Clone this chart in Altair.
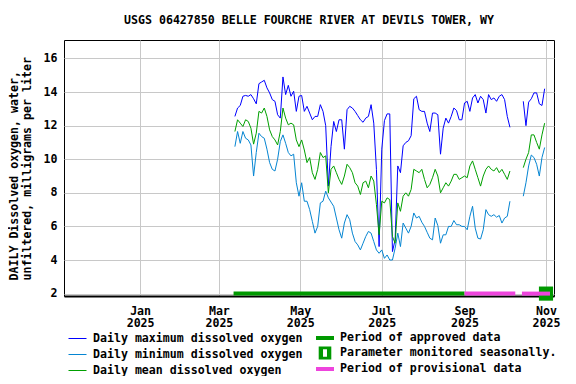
import altair as alt
import pandas as pd

TITLE = "USGS 06427850 BELLE FOURCHE RIVER AT DEVILS TOWER, WY"
Y_TITLE = ["DAILY Dissolved oxygen, water,", "unfiltered, milligrams per liter"]
FONT = "DejaVu Sans Mono"
FS = 11.6

SERIES = ["Daily maximum dissolved oxygen", "Daily minimum dissolved oxygen",
          "Daily mean dissolved oxygen"]
SERIES_COLORS = ["#0000ff", "#0585d2", "#00a000"]

# readings every 2 days; segment 1 from 2025-03-13, segment 2 from 2025-10-15
SEG_STARTS = ["2025-03-13", "2025-10-15"]

MAX_1 = [12.55, 13.05, 13.2, 13.75, 13.8, 13.75, 13.85, 13.6, 13.3, 14.5,
         14.6, 14.7, 14.25, 13.95, 13.55, 13.45, 12.65, 12.45, 14.9, 13.85,
         14.4, 13.75, 14.05, 12.85, 13.75, 13.8, 12.85, 13.15, 12.75, 12.35,
         12.55, 12.55, 13.25, 12.85, 12.0, 8.4, 10.75, 12.25, 11.65, 12.35,
         12.35, 10.6, 12.95, 13.15, 13.05, 12.85, 12.6, 12.35, 12.2, 12.45,
         12.55, 13.25, 12.15, 9.4, 4.8, 10.6, 12.3, 12.7, 12.7, 4.5,
         5.2, 9.6, 9.2, 10.8, 11.0, 11.1, 11.4, 13.6, 13.75, 12.95,
         12.85, 12.85, 12.15, 11.65, 12.75, 12.75, 12.65, 10.3, 11.85, 12.45,
         12.15, 12.55, 13.05, 12.9, 12.35, 12.35, 13.35, 13.45, 12.85, 13.65,
         13.85, 13.35, 13.75, 13.55, 12.75, 13.85, 13.55, 13.65, 13.45, 13.75,
         13.85, 13.55, 12.55, 11.9]
MAX_2 = [13.45, 12.0, 13.4, 13.6, 13.95, 13.95, 13.3, 13.2, 14.2]

MIN_1 = [10.75, 11.65, 10.95, 11.65, 11.25, 11.15, 10.85, 9.0, 10.4, 11.55,
         11.35, 11.25, 10.6, 9.8, 9.4, 9.3, 10.0, 11.05, 11.45, 10.95,
         10.4, 10.2, 10.3, 8.6, 7.8, 8.6, 7.5, 7.5, 7.0, 6.3,
         5.6, 6.0, 7.4, 7.5, 8.1, 7.7, 7.45, 7.2, 6.5, 5.8,
         5.3, 6.2, 6.7, 6.4, 5.6, 5.1, 4.9, 4.6, 5.0, 5.4,
         5.7, 5.6, 5.1, 4.6, 4.4, 4.6, 4.1, 4.3, 4.0, 4.0,
         4.7, 5.6, 4.8, 6.2, 5.9, 5.6, 6.0, 6.8, 6.5, 6.6,
         6.25, 6.0, 5.65, 5.3, 5.2, 6.5, 6.05, 5.0, 5.5, 5.5,
         6.0, 6.0, 6.35, 6.1, 6.1, 6.0, 6.0, 5.8, 6.6, 7.2,
         5.9, 5.3, 5.25, 5.8, 7.0, 6.7, 6.6, 6.7, 6.55, 6.65,
         6.2, 6.5, 6.6, 7.5]
MIN_2 = [7.8, 8.6, 9.6, 10.25, 10.1, 9.7, 9.0, 10.1, 10.7]

MEAN_1 = [11.65, 12.35, 12.15, 11.95, 12.35, 12.25, 11.85, 10.9, 11.55, 12.85,
          12.75, 13.05, 12.55, 11.75, 11.35, 11.15, 10.85, 11.65, 13.05, 12.45,
          12.05, 12.15, 12.05, 11.15, 10.75, 11.15, 10.55, 9.8, 10.1, 9.2,
          8.8, 9.4, 10.4, 10.1, 10.2, 8.0, 9.4, 9.6, 9.2, 8.8,
          8.5, 9.0, 9.7, 9.5, 9.2, 8.6, 8.4, 7.9, 8.6, 8.7,
          8.3, 9.0, 8.7, 7.3, 5.5, 7.5, 7.4, 7.7, 7.6, 5.4,
          5.0, 7.4, 6.9, 7.8, 8.0, 7.8, 8.2, 9.4, 9.3, 9.2,
          9.4, 8.8, 8.3, 8.5, 8.9, 9.4, 9.0, 8.0, 8.3, 8.6,
          8.4, 8.7, 9.1, 9.1, 8.8, 8.9, 9.0, 8.9, 9.6, 9.9,
          9.4, 8.9, 8.4, 9.0, 9.4, 9.6, 9.4, 9.3, 9.5, 9.2,
          9.4, 9.1, 8.8, 9.3]
MEAN_2 = [9.5, 10.0, 10.4, 11.45, 11.45, 11.0, 10.6, 11.45, 12.15]

KINDS = ["Period of approved data", "Parameter monitored seasonally.",
         "Period of provisional data"]
KIND_COLORS = ["#009900", "#009900", "#ee44dd"]
KIND_SYMBOLS = ["M-1,-0.22H1V0.22H-1Z",
                "M-0.7,-0.72H0.7V0.72H-0.7Z M-0.22,-0.42V0.42H0.22V-0.42Z",
                "M-1,-0.22H1V0.22H-1Z"]

PERIOD_KIND = ["Period of approved data", "Period of provisional data",
               "Period of provisional data"]
PERIOD_START = ["2025-03-12", "2025-09-01", "2025-10-14"]
PERIOD_END = ["2025-09-01", "2025-10-09", "2025-11-04"]
SEASONAL_DATE = ["2025-11-01"]

TICK_MONTHS = [(2025, 1), (2025, 3), (2025, 5), (2025, 7), (2025, 9), (2025, 11)]
Y_TICKS = [2, 4, 6, 8, 10, 12, 14, 16]

# ---- build tables ----
rows = []
for name, segs in [(SERIES[0], [MAX_1, MAX_2]), (SERIES[1], [MIN_1, MIN_2]),
                   (SERIES[2], [MEAN_1, MEAN_2])]:
    for si, (start, vals) in enumerate(zip(SEG_STARTS, segs)):
        dates = pd.date_range(start, periods=len(vals), freq="2D")
        for dt, v in zip(dates, vals):
            rows.append({"date": dt.strftime("%Y-%m-%d"), "value": v,
                         "series": name, "seg": f"{name}-{si}"})
lines_df = pd.DataFrame(rows)
periods_df = pd.DataFrame({"kind": PERIOD_KIND, "start": PERIOD_START, "end": PERIOD_END})
seasonal_df = pd.DataFrame({"date": SEASONAL_DATE, "kind": [KINDS[1]]})

x_scale = alt.Scale(type="utc",
                    domain=[alt.DateTime(year=2024, month=11, date=5, utc=True),
                            alt.DateTime(year=2025, month=11, date=7, utc=True)])
y_scale = alt.Scale(domain=[1.857, 17.1], nice=False, zero=False)

x_axis = alt.Axis(values=[alt.DateTime(year=y, month=m, date=1, utc=True) for y, m in TICK_MONTHS],
                  labelExpr="[utcFormat(datum.value, '%b'), utcFormat(datum.value, '%Y')]",
                  title=None, grid=True, gridColor="#c8c8c8", ticks=False, tickSize=0,
                  tickCount=20, labelPadding=9, labelLineHeight=12.5, labelFlush=False,
                  labelOverlap=False, labelBound=False,
                  domainColor="black", domainWidth=2)
y_axis = alt.Axis(values=Y_TICKS, format="d", title=Y_TITLE, grid=True, gridColor="#c8c8c8",
                  ticks=False, tickSize=0, tickCount=20, labelPadding=7, domain=False,
                  labelOverlap=False, labelFlush=False, labelBound=False,
                  titleX=-49.5, titleY=240, titleAngle=-90, titleAlign="left",
                  titleBaseline="middle", titleLineHeight=12.8)

legend_common = dict(title=None, orient="none", direction="vertical", padding=0,
                     labelFont=FONT, labelFontSize=FS, labelFontWeight="bold",
                     labelColor="black", labelOffset=6, labelLimit=400,
                     symbolSize=324, rowPadding=-2, legendY=289)

lines = alt.Chart(lines_df).mark_line(strokeWidth=1).encode(
    x=alt.X("date:T", scale=x_scale, axis=x_axis),
    y=alt.Y("value:Q", scale=y_scale, axis=y_axis),
    color=alt.Color("series:N", scale=alt.Scale(domain=SERIES, range=SERIES_COLORS),
                    legend=alt.Legend(legendX=4, symbolType="stroke", symbolStrokeWidth=1,
                                      **legend_common)),
    detail="seg:N",
)

seasonal_leg = alt.Chart(seasonal_df).mark_point(filled=True, size=324, opacity=1).encode(
    x="date:T",
    y=alt.datum(2),
    fill=alt.Fill("kind:N", scale=alt.Scale(domain=KINDS, range=KIND_COLORS),
                  legend=alt.Legend(legendX=252, symbolStrokeWidth=0, **legend_common)),
    shape=alt.Shape("kind:N", scale=alt.Scale(domain=KINDS, range=KIND_SYMBOLS),
                    legend=alt.Legend(legendX=252, symbolStrokeWidth=0, **legend_common)),
)

seasonal_box = alt.Chart(seasonal_df).mark_point(
    shape="square", filled=True, size=200, color="#009900", opacity=1).encode(
    x="date:T", y=alt.datum(2))

period_rules = alt.Chart(periods_df).mark_rule(strokeWidth=4).encode(
    x="start:T", x2="end:T", y=alt.datum(2),
    stroke=alt.Stroke("kind:N", scale=alt.Scale(domain=KINDS, range=KIND_COLORS), legend=None),
)

chart = alt.layer(lines, seasonal_leg, seasonal_box, period_rules).properties(
    width=490, height=256, background="white",
    title=alt.TitleParams(TITLE, font=FONT, fontSize=FS, fontWeight="bold", color="black",
                          anchor="middle", offset=4, baseline="alphabetic"),
    autosize=alt.AutoSizeParams(type="none"),
    padding={"left": 56, "top": 32, "right": 14, "bottom": 80},
).configure_view(stroke="black", strokeWidth=1).configure_axis(
    labelFont=FONT, labelFontSize=FS, labelFontWeight="bold", labelColor="black",
    titleFont=FONT, titleFontSize=FS, titleFontWeight="bold", titleColor="black",
)

chart.save("out.html", embed_options={"renderer": "svg", "actions": False})
